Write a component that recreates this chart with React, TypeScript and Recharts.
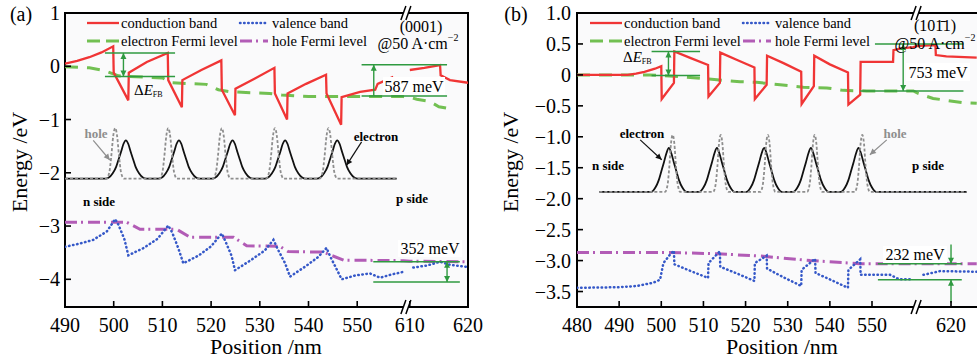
import React from "react";
import { LineChart, Line, XAxis, YAxis, ReferenceLine, ReferenceDot, ReferenceArea } from "recharts";

const SERIF = '"Liberation Serif", "DejaVu Serif", serif';
const RED = "#f03535";
const BLUE = "#3558c8";
const GREEN = "#72c052";
const PURPLE = "#b25cb6";
const ANN = "#2f9a40";
const GRAY = "#8e8e8e";

type P = [number, number | null];

// ---------- panel (a): (0001) ----------
const cbA: P[] = [
  [490, 0.05], [492.5, 0.1], [495, 0.17], [497.5, 0.26], [499.9, 0.375],
  [500.0, -0.12], [503.0, -0.64],
  [503.1, -0.12], [506.8, 0.08], [511.1, 0.25],
  [511.2, -0.26], [514.0, -0.77],
  [514.1, -0.26], [518, -0.07], [522.1, 0.11],
  [522.2, -0.44], [524.9, -0.92],
  [525.0, -0.42], [529, -0.23], [533.0, -0.03],
  [533.1, -0.51], [535.6, -1.0],
  [535.7, -0.51], [539.5, -0.33], [543.6, -0.16],
  [543.7, -0.51], [546.7, -1.1],
  [546.8, -0.58], [550.6, -0.48], [553.7, -0.44], [554.2, -0.33], [557.4, -0.2],
  [560, null],
  [610, -0.07], [612.5, -0.03], [615.2, 0.02], [615.3, -0.17], [616.9, -0.26], [620, -0.31],
];
const vbA: P[] = [
  [490, -3.39], [493, -3.33], [495.8, -3.26], [498.6, -3.1], [500.3, -2.87],
  [501.0, -2.98], [502.2, -3.25], [503.0, -3.55],
  [506, -3.42], [509, -3.24], [511.2, -2.99],
  [512, -3.12], [513.2, -3.4], [514.3, -3.7],
  [517.5, -3.55], [520, -3.38], [522.2, -3.14],
  [523, -3.3], [524.2, -3.56], [524.9, -3.83],
  [528, -3.65], [531, -3.46], [532.8, -3.26],
  [533.6, -3.42], [535.2, -3.7], [536.2, -3.95],
  [539.5, -3.75], [542, -3.58], [543.7, -3.41],
  [544.5, -3.58], [546, -3.85], [546.8, -4.0],
  [549.5, -3.93], [552.6, -3.89], [554.7, -3.97], [557, -3.91], [559.5, -3.86],
  [560, null],
  [610.6, -3.78], [613, -3.74], [615.2, -3.67], [617, -3.73], [620, -3.77],
];
const efA: P[] = [
  [490, -0.01], [495, -0.03], [498, -0.08], [501, -0.18], [510, -0.22], [512, -0.31],
  [519, -0.34], [521.5, -0.44], [524, -0.48], [532, -0.51], [534.5, -0.54], [540, -0.57],
  [559.5, -0.57], [610, -0.58], [611.2, -0.62], [613.4, -0.66], [615, -0.76], [617, -0.8],
];
const hfA: P[] = [
  [490, -2.93], [502.7, -2.93], [505.4, -3.06], [512.9, -3.06], [515.7, -3.21], [524.6, -3.21],
  [527.3, -3.37], [534.1, -3.38], [535.8, -3.48], [543, -3.49], [547.2, -3.64], [559.5, -3.65],
  [610, -3.66], [619.5, -3.67],
];
const elecCentersA = [502.5, 513.4, 524.4, 535.2, 545.9];
const holeCentersA = [500.3, 511.2, 522.2, 533.1, 544.1];
const elecShapeA: [number, number][] = [
  [-4.2, 0], [-3.5, 0.02], [-2.7, 0.1], [-2, 0.22], [-1.5, 0.36], [-1, 0.5], [-0.5, 0.65], [0, 0.72],
  [0.5, 0.65], [1, 0.5], [1.5, 0.36], [2, 0.22], [2.7, 0.1], [3.5, 0.02], [4.2, 0],
];
const holeShapeA: [number, number][] = [
  [-1.8, 0], [-1.2, 0.12], [-0.8, 0.42], [-0.4, 0.8], [0, 0.95], [0.4, 0.8], [0.8, 0.42], [1.2, 0.12], [1.8, 0],
];
const waveBaseA = -2.11;
const waveSpanA = [490, 558.1];
const xTicksA = [490, 500, 510, 520, 530, 540, 550, 610, 620];
const yTicksA = [1, 0, -1, -2, -3, -4];

// ---------- panel (b): (10-11) ----------
const cbB: P[] = [
  [480, 0], [492, 0], [494, 0.02], [496, 0.05], [498.5, 0.1], [500.0, 0.14],
  [500.1, -0.39], [503.0, -0.13],
  [503.1, 0.38], [507, 0.27], [511.1, 0.16],
  [511.2, -0.35], [513.9, -0.13],
  [514.0, 0.36], [518, 0.24], [522.1, 0.12],
  [522.2, -0.39], [525.0, -0.16],
  [525.1, 0.31], [529, 0.19], [533.2, 0.05],
  [533.3, -0.47], [536.2, -0.18],
  [536.3, 0.31], [540, 0.17], [544.3, 0.04],
  [544.4, -0.48], [547.2, -0.32],
  [547.3, 0.21], [555.0, 0.21], [555.1, 0.4], [557, 0.43], [559.8, 0.45],
  [612.2, 0.47], [616.3, 0.48], [616.4, 0.32], [618.9, 0.3], [626.1, 0.28],
];
const vbB: P[] = [
  [480, -3.44], [490, -3.43], [494.2, -3.41], [498, -3.36], [499.7, -3.31], [500.5, -3.04],
  [502.1, -2.9], [503.0, -2.84],
  [503.1, -3.06], [507, -3.17], [511.1, -3.28],
  [511.2, -3.04], [513.9, -2.85],
  [514.0, -3.1], [518, -3.21], [522.1, -3.33],
  [522.2, -3.04], [525.0, -2.92],
  [525.1, -3.13], [529, -3.27], [533.2, -3.41],
  [533.3, -3.15], [536.5, -2.97],
  [536.6, -3.2], [540.5, -3.32], [544.3, -3.44],
  [544.4, -3.15], [547.2, -2.98],
  [547.3, -3.23], [554.3, -3.23], [556.4, -3.3], [559.8, -3.3],
  [560.3, null],
  [613.45, -3.23], [617.4, -3.17], [626.1, -3.18],
];
const efB: P[] = [
  [480, 0], [497.3, 0], [500, -0.01], [505, -0.03], [508.4, -0.05], [513.2, -0.08], [518.7, -0.11],
  [522.6, -0.12], [528.2, -0.16], [533.7, -0.2], [539.3, -0.21], [543.2, -0.25], [548.7, -0.26],
  [559.8, -0.26], [612.2, -0.3], [615.75, -0.38], [622.95, -0.45], [626.1, -0.46],
];
const hfB: P[] = [
  [480, -2.87], [502, -2.87], [513.3, -2.89], [524.2, -2.93], [535.3, -3.0], [547.2, -3.05],
  [559.8, -3.05], [612.2, -3.05], [626.1, -3.05],
];
const elecCentersB = [501.8, 513.2, 524.4, 535.5, 546.8];
const holeCentersB = [502.7, 514.1, 525.3, 536.4, 547.7];
const elecShapeB: [number, number][] = [
  [-4.2, 0], [-3.2, 0.07], [-2.4, 0.19], [-1.8, 0.33], [-1.2, 0.47], [-0.6, 0.62], [0, 0.71],
  [0.6, 0.62], [1.2, 0.47], [1.8, 0.33], [2.4, 0.19], [3.2, 0.07], [4.2, 0],
];
const holeShapeB: [number, number][] = [
  [-1.8, 0], [-1.2, 0.12], [-0.8, 0.4], [-0.4, 0.78], [0, 0.92], [0.4, 0.78], [0.8, 0.4], [1.2, 0.12], [1.8, 0],
];
const waveBaseB = -1.89;
const waveSpanB = [485.3, 623.75];
const xTicksB = [480, 490, 500, 510, 520, 530, 540, 550, 620];
const yTicksB = [1, 0.5, 0, -0.5, -1, -1.5, -2, -2.5, -3, -3.5];

// broken axes: positions past the break are squeezed onto the axis
const axA = (nm: number) => (nm < 600 ? nm : 560.8 + (nm - 610) * 1.195);
const axB = (nm: number) => (nm < 600 ? nm : 568.75 + (nm - 620));

const toPts = (arr: P[], ax: (n: number) => number) => arr.map(([x, y]) => ({ x: ax(x), y }));

const wave = (span: number[], base: number, centers: number[], shape: [number, number][], ax: (n: number) => number) => {
  const pts = [{ x: ax(span[0]), y: base }];
  centers.forEach((c) => shape.forEach(([dx, dy]) => pts.push({ x: ax(c + dx), y: base + dy })));
  pts.push({ x: ax(span[1]), y: base });
  return pts;
};

const fmtY = (digits: number) => (v: number) =>
  v === 0 ? "0" : (v < 0 ? "\u2212" : "") + Math.abs(v).toFixed(digits);

function XTick(props: any) {
  const { x, y, payload, ticks, ax } = props;
  const i = ticks.findIndex((t: number) => Math.abs(ax(t) - payload.value) < 0.01);
  return (
    <g>
      <line x1={x} y1={y} x2={x} y2={y - 6} stroke="#000" strokeWidth={1.6} />
      <text x={x} y={y + 24.5} textAnchor="middle" fontSize={20} fontFamily={SERIF} fill="#000">
        {i >= 0 ? ticks[i] : ""}
      </text>
    </g>
  );
}

function YTick(props: any) {
  const { x, y, payload, fmt, gap } = props;
  return (
    <g>
      <line x1={x} y1={y} x2={x + 6} y2={y} stroke="#000" strokeWidth={1.6} />
      <text x={x - gap} y={y} dy={7} textAnchor="end" fontSize={20} fontFamily={SERIF} fill="#000">
        {fmt(payload.value)}
      </text>
    </g>
  );
}

function BreakMark(props: any) {
  const { cx, cy } = props;
  if (cx == null || cy == null) return null;
  return (
    <g>
      <polygon points={`${cx - 6},${cy + 7} ${cx - 1},${cy - 7} ${cx + 4},${cy - 7} ${cx - 1},${cy + 7}`} fill="#fff" />
      <line x1={cx - 6} y1={cy + 7} x2={cx - 1} y2={cy - 7} stroke="#000" strokeWidth={1.5} />
      <line x1={cx - 1} y1={cy + 7} x2={cx + 4} y2={cy - 7} stroke="#000" strokeWidth={1.5} />
    </g>
  );
}

const head = (xa: number, ya: number, xb: number, yb: number, color: string) => {
  // arrowhead at (xb,yb) pointing away from (xa,ya)
  const dx = xb - xa;
  const dy = yb - ya;
  const len = Math.hypot(dx, dy) || 1;
  const ux = dx / len;
  const uy = dy / len;
  const L = 6;
  const W = 3;
  const bx = xb - ux * L;
  const by = yb - uy * L;
  return <polygon points={`${xb},${yb} ${bx - uy * W},${by + ux * W} ${bx + uy * W},${by - ux * W}`} fill={color} />;
};

const arrow = (heads: "end" | "both", color: string, width = 1.4) => (p: any) => {
  const { x1, y1, x2, y2 } = p;
  if ([x1, y1, x2, y2].some((v) => v == null || isNaN(v))) return <g />;
  return (
    <g>
      <line x1={x1} y1={y1} x2={x2} y2={y2} stroke={color} strokeWidth={width} />
      {head(x1, y1, x2, y2, color)}
      {heads === "both" ? head(x2, y2, x1, y1, color) : null}
    </g>
  );
};

const seg = (ax: (n: number) => number, xa: number, ya: number, xb: number, yb: number) => [
  { x: ax(xa), y: ya },
  { x: ax(xb), y: yb },
];

interface PanelProps {
  width: number;
  margin: { top: number; right: number; bottom: number; left: number };
  xDomain: [number, number];
  yDomain: [number, number];
  xTicks: number[];
  yTicks: number[];
  yDigits: number;
  yGap: number;
  ax: (n: number) => number;
  breakAt: number;
  cb: P[];
  vb: P[];
  ef: P[];
  hf: P[];
  elec: { x: number; y: number }[];
  hole: { x: number; y: number }[];
  children?: React.ReactNode;
}

function Panel(props: PanelProps) {
  const { ax, xDomain, yDomain } = props;
  const fmt = fmtY(props.yDigits);
  return (
    <LineChart width={props.width} height={361} margin={props.margin}>
      <XAxis
        type="number"
        dataKey="x"
        domain={xDomain}
        allowDataOverflow
        ticks={props.xTicks.map(ax)}
        interval={0}
        axisLine={false}
        tickLine={false}
        tickSize={0}
        tickMargin={0}
        height={30}
        tick={<XTick ticks={props.xTicks} ax={ax} />}
      />
      <YAxis
        type="number"
        domain={yDomain}
        allowDataOverflow
        ticks={props.yTicks}
        interval={0}
        axisLine={false}
        tickLine={false}
        tickSize={0}
        tickMargin={0}
        width={60}
        tick={<YTick fmt={fmt} gap={props.yGap} />}
      />
      <ReferenceArea
        x1={xDomain[0]}
        x2={xDomain[1]}
        y1={yDomain[0]}
        y2={yDomain[1]}
        fill="#fafafb"
        fillOpacity={1}
        stroke="#000"
        strokeWidth={2}
        ifOverflow="visible"
      />
      <Line data={props.elec} dataKey="y" type="monotone" stroke="#111" strokeWidth={1.8} dot={false} activeDot={false} isAnimationActive={false} />
      <Line data={props.hole} dataKey="y" type="monotone" stroke={GRAY} strokeWidth={1.8} strokeDasharray="3 2" dot={false} activeDot={false} isAnimationActive={false} />
      <Line data={toPts(props.hf, ax)} dataKey="y" type="linear" stroke={PURPLE} strokeWidth={3} strokeDasharray="12 4 2 5" dot={false} activeDot={false} isAnimationActive={false} />
      <Line data={toPts(props.vb, ax)} dataKey="y" type="linear" stroke={BLUE} strokeWidth={2.5} strokeDasharray="0.5 3.6" strokeLinecap="round" dot={false} activeDot={false} isAnimationActive={false} />
      <Line data={toPts(props.ef, ax)} dataKey="y" type="linear" stroke={GREEN} strokeWidth={3} strokeDasharray="13 9" dot={false} activeDot={false} isAnimationActive={false} />
      <Line data={toPts(props.cb, ax)} dataKey="y" type="linear" stroke={RED} strokeWidth={2.3} dot={false} activeDot={false} isAnimationActive={false} />
      {props.children}
      <ReferenceDot x={props.breakAt} y={yDomain[1]} r={0} ifOverflow="visible" shape={(p: any) => <BreakMark {...p} />} />
      <ReferenceDot x={props.breakAt} y={yDomain[0]} r={0} ifOverflow="visible" shape={(p: any) => <BreakMark {...p} />} />
    </LineChart>
  );
}

const hline = (ax: (n: number) => number, xa: number, xb: number, y: number, key: string) => (
  <ReferenceLine key={key} segment={seg(ax, xa, y, xb, y)} stroke={ANN} strokeWidth={1.5} ifOverflow="visible" />
);

const T = (p: { x: number; y: number; size?: number; anchor?: string; weight?: string; fill?: string; children: React.ReactNode }) => (
  <text
    x={p.x}
    y={p.y}
    fontSize={p.size ?? 14.5}
    textAnchor={(p.anchor ?? "middle") as any}
    fontWeight={p.weight ?? "normal"}
    fill={p.fill ?? "#000"}
    fontFamily={SERIF}
    dominantBaseline="central"
  >
    {p.children}
  </text>
);

function LegendRows({ x0, x1 }: { x0: number; x1: number }) {
  return (
    <g>
      <line x1={x0} y1={23} x2={x0 + 32} y2={23} stroke={RED} strokeWidth={2.3} />
      <T x={x0 + 34} y={23} anchor="start">conduction band</T>
      <line x1={x1} y1={23} x2={x1 + 28} y2={23} stroke={BLUE} strokeWidth={2.5} strokeDasharray="0.5 3.6" strokeLinecap="round" />
      <T x={x1 + 32} y={23} anchor="start">valence band</T>
      <line x1={x0} y1={41} x2={x0 + 32} y2={41} stroke={GREEN} strokeWidth={3} strokeDasharray="13 6" />
      <T x={x0 + 34} y={41} anchor="start">electron Fermi level</T>
      <line x1={x1} y1={41} x2={x1 + 28} y2={41} stroke={PURPLE} strokeWidth={3} strokeDasharray="12 4 2 5" />
      <T x={x1 + 32} y={41} anchor="start">hole Fermi level</T>
    </g>
  );
}

export default function App() {
  const elecA = wave(waveSpanA, waveBaseA, elecCentersA, elecShapeA, axA);
  const holeA = wave(waveSpanA, waveBaseA, holeCentersA, holeShapeA, axA);
  const elecB = wave(waveSpanB, waveBaseB, elecCentersB, elecShapeB, axB);
  const holeB = wave(waveSpanB, waveBaseB, holeCentersB, holeShapeB, axB);

  return (
    <div style={{ position: "absolute", left: 0, top: 0, width: 977, height: 361, overflow: "hidden", background: "#fff" }}>
      <div style={{ position: "absolute", left: 0, top: 0 }}>
        <Panel
          width={490}
          margin={{ top: 13, right: 22, bottom: 24, left: 5 }}
          xDomain={[490, 572.75]}
          yDomain={[-4.52, 1]}
          xTicks={xTicksA}
          yTicks={yTicksA}
          yDigits={0}
          yGap={5}
          ax={axA}
          breakAt={560.2}
          cb={cbA}
          vb={vbA}
          ef={efA}
          hf={hfA}
          elec={elecA}
          hole={holeA}
        >
          {hline(axA, 498.2, 512.6, 0.25, "a1")}
          {hline(axA, 498.2, 512.6, -0.19, "a2")}
          <ReferenceLine segment={seg(axA, 502, -0.19, 502, 0.25)} ifOverflow="visible" shape={arrow("both", ANN)} />
          {hline(axA, 550.9, 616.4, 0.03, "a3")}
          {hline(axA, 550.9, 616.4, -0.56, "a4")}
          <ReferenceLine segment={seg(axA, 553.4, -0.56, 553.4, 0.03)} ifOverflow="visible" shape={arrow("end", ANN)} />
          {hline(axA, 553.3, 618.6, -3.67, "a5")}
          {hline(axA, 553.3, 618.6, -4.05, "a6")}
          <ReferenceLine segment={seg(axA, 616.4, -3.67, 616.4, -4.05)} ifOverflow="visible" shape={arrow("both", ANN)} />
          <ReferenceLine segment={seg(axA, 495.8, -1.39, 499.2, -1.76)} ifOverflow="visible" shape={arrow("end", GRAY, 1.2)} />
          <ReferenceLine segment={seg(axA, 550.9, -1.42, 547.8, -1.86)} ifOverflow="visible" shape={arrow("end", "#111", 1.2)} />
        </Panel>
      </div>
      <div style={{ position: "absolute", left: 490, top: 0 }}>
        <Panel
          width={510}
          margin={{ top: 13, right: 10, bottom: 24, left: 27 }}
          xDomain={[480, 578]}
          yDomain={[-3.75, 1]}
          xTicks={xTicksB}
          yTicks={yTicksB}
          yDigits={1}
          yGap={6}
          ax={axB}
          breakAt={560.7}
          cb={cbB}
          vb={vbB}
          ef={efB}
          hf={hfB}
          elec={elecB}
          hole={holeB}
        >
          {hline(axB, 497.7, 509.2, 0.376, "b1")}
          {hline(axB, 497.7, 509.2, -0.01, "b2")}
          <ReferenceLine segment={seg(axB, 501.7, -0.01, 501.7, 0.376)} ifOverflow="visible" shape={arrow("both", ANN)} />
          {hline(axB, 550.7, 622.95, 0.5, "b3")}
          {hline(axB, 547.2, 622.95, -0.26, "b4")}
          <ReferenceLine segment={seg(axB, 557.4, -0.26, 557.4, 0.5)} ifOverflow="visible" shape={arrow("both", ANN)} />
          {hline(axB, 551.4, 622.55, -3.05, "b5")}
          {hline(axB, 551.4, 622.55, -3.31, "b6")}
          <ReferenceLine segment={seg(axB, 620, -2.74, 620, -3.05)} ifOverflow="visible" shape={arrow("end", ANN)} />
          <ReferenceLine segment={seg(axB, 620, -3.68, 620, -3.31)} ifOverflow="visible" shape={arrow("end", ANN)} />
          <ReferenceLine segment={seg(axB, 495.0, -1.05, 500.1, -1.37)} ifOverflow="visible" shape={arrow("end", "#111", 1.2)} />
          <ReferenceLine segment={seg(axB, 553.5, -1.05, 549.5, -1.29)} ifOverflow="visible" shape={arrow("end", GRAY, 1.2)} />
        </Panel>
      </div>
      <svg width={977} height={361} style={{ position: "absolute", left: 0, top: 0, pointerEvents: "none" }}>
        {/* panel (a) texts */}
        <T x={21} y={14} size={20}>(a)</T>
        <text x={19} y={162} transform="rotate(-90 19 162)" fontSize={22} textAnchor="middle" fontFamily={SERIF} dominantBaseline="central">
          Energy /eV
        </text>
        <T x={266} y={346} size={22}>Position /nm</T>
        <LegendRows x0={87} x1={240} />
        <T x={421} y={26} size={16}>(0001)</T>
        <T x={418} y={43} size={16}>
          @50 A·cm<tspan fontSize={10} dy={-6}>{"\u22122"}</tspan>
        </T>
        <T x={134} y={90} anchor="start" size={15}>
          Δ<tspan fontStyle="italic">E</tspan>
          <tspan fontSize={8} dy={4}>FB</tspan>
        </T>
        <rect x={383} y={77} width={62} height={18} fill="#fff" />
        <T x={414} y={86} size={16}>587 meV</T>
        <rect x={398} y={240} width={64} height={17} fill="#fff" />
        <T x={430} y={248} size={16}>352 meV</T>
        <T x={96} y={133} size={13} weight="bold" fill={GRAY}>hole</T>
        <T x={376} y={136} size={13} weight="bold">electron</T>
        <T x={99} y={201} size={13} weight="bold">n side</T>
        <T x={412} y={198} size={13} weight="bold">p side</T>

        {/* panel (b) texts */}
        <T x={516} y={14} size={20}>(b)</T>
        <text x={510} y={162} transform="rotate(-90 510 162)" fontSize={22} textAnchor="middle" fontFamily={SERIF} dominantBaseline="central">
          Energy /eV
        </text>
        <T x={782} y={346} size={22}>Position /nm</T>
        <LegendRows x0={590} x1={743} />
        <T x={935} y={25} size={16}>{"(10\u0031\u03041)"}</T>
        <T x={935} y={43} size={16}>
          @50 A·cm<tspan fontSize={10} dy={-6}>{"\u22122"}</tspan>
        </T>
        <T x={623} y={57} anchor="start" size={15}>
          Δ<tspan fontStyle="italic">E</tspan>
          <tspan fontSize={8} dy={4}>FB</tspan>
        </T>
        <rect x={906} y={63} width={64} height={18} fill="#fff" />
        <T x={938} y={72} size={16}>753 meV</T>
        <rect x={883} y={246} width={64} height={17} fill="#fff" />
        <T x={915} y={254} size={16}>232 meV</T>
        <T x={642} y={133} size={13} weight="bold">electron</T>
        <T x={895} y={133} size={13} weight="bold" fill={GRAY}>hole</T>
        <T x={608} y={165} size={13} weight="bold">n side</T>
        <T x={928} y={165} size={13} weight="bold">p side</T>
      </svg>
    </div>
  );
}
